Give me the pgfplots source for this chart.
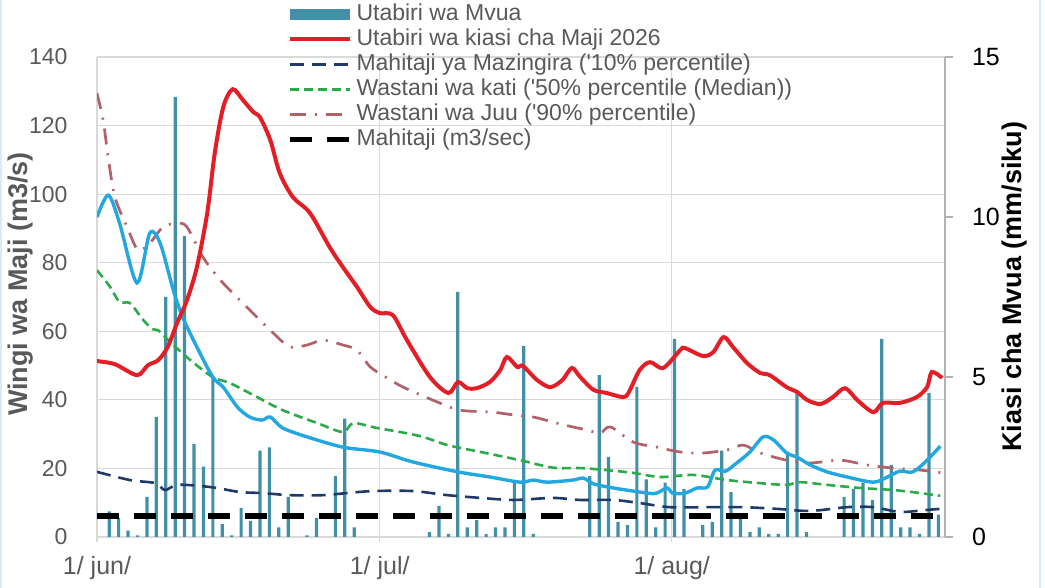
\documentclass[border=0pt]{standalone}
\usepackage{pgfplots}
\pgfplotsset{compat=1.18}
\usepackage{fontspec}
\setmainfont{Liberation Sans}
% same face without TeX ligature mapping, for a straight apostrophe
\newfontfamily\rawfont{Liberation Sans}
\newcommand{\sq}{{\rawfont'}}

\definecolor{txtgray}{HTML}{595959}
\definecolor{gridgray}{HTML}{D9D9D9}
\definecolor{axgray}{HTML}{B3B3B3}
\definecolor{rainblue}{HTML}{4290A8}
\definecolor{flowred}{HTML}{E41E26}
\definecolor{skyblue}{HTML}{22A7E0}
\definecolor{navyline}{HTML}{1F3A68}
\definecolor{medgreen}{HTML}{2BAA4A}
\definecolor{roseline}{HTML}{B0616A}
\definecolor{edgeblue}{HTML}{D8ECF8}

\pgfplotsset{
  base/.style={
    scale only axis, width=424pt, height=240pt,
    xmin=0, xmax=90, at={(0,0)}, anchor=south west,
    /pgf/number format/assume math mode=true,
  },
  redstyle/.style={flowred, line width=2pt},
  navystyle/.style={navyline, line width=1.3pt, dash pattern=on 7pt off 4pt},
  greenstyle/.style={medgreen, line width=1.3pt, dash pattern=on 4.5pt off 2.5pt},
  rosestyle/.style={roseline, line width=1.35pt, dash pattern=on 8pt off 4.5pt on 1pt off 4.5pt},
  blackstyle/.style={black, line width=2.6pt, dash pattern=on 11pt off 7.5pt},
}

\begin{document}
\begin{tikzpicture}
\useasboundingbox (-48.5pt,-25.5pt) rectangle (474pt,268.5pt);
% thin frame edges
\draw[edgeblue, line width=1pt] (-48pt,-25.5pt) -- (-48pt,268.5pt);
\draw[edgeblue, line width=1.2pt] (471.5pt,-25.5pt) -- (471.5pt,268.5pt);

% grid, left scale and date axis
\begin{axis}[base,
  ymin=0, ymax=140, ytick={0,20,...,140},
  xtick={0,30,61}, xticklabels={1/ jun/,1/ jul/,1/ aug/},
  axis x line*=bottom, axis y line*=left,
  axis line style={gridgray, line width=0.6pt, -},
  grid=major, grid style={gridgray, line width=0.6pt},
  xtick style={gridgray, line width=0.6pt},
  ytick style={draw=none},
  tick align=outside, major tick length=2.5pt,
  xticklabel style={font=\fontsize{12.5}{14}\selectfont, text=txtgray, yshift=-3.5pt},
  yticklabel style={font=\fontsize{11.5}{13}\selectfont, text=txtgray, anchor=east, xshift=-8.7pt},
  ylabel={Wingi wa Maji (m3/s)},
  ylabel style={font=\fontsize{13.5}{15}\selectfont\bfseries, text=txtgray,
    at={(axis description cs:-0.0896,0.527)}, anchor=center},
]
\end{axis}

% rainfall bars on the right scale, with the legend
\begin{axis}[base,
  ymin=0, ymax=15, ytick={0,5,10,15},
  axis y line*=right, hide x axis,
  axis line style={axgray, line width=0.6pt, -},
  ytick style={axgray, line width=0.6pt},
  tick align=outside, major tick length=4pt,
  yticklabel style={font=\fontsize{12.5}{14}\selectfont, text=black, anchor=west, xshift=6pt},
  ylabel={Kiasi cha Mvua (mm/siku)},
  ylabel style={font=\fontsize{13.5}{15}\selectfont\bfseries, text=black,
    at={(axis description cs:1.0825,0.521)}, anchor=center},
  legend image code/.code={\draw[#1] (0pt,0pt) -- (30pt,0pt);},
  legend style={at={(axis description cs:0.224,1)}, anchor=north west, yshift=27.75pt,
    draw=none, fill=none, font=\fontsize{11.5}{13}\selectfont, text=txtgray,
    inner sep=0pt, row sep=0pt,
    nodes={inner ysep=0.5pt, inner xsep=2pt, text height=9pt, text depth=2.5pt}},
  legend cell align=left,
]
\addplot[ybar, bar width=1.6pt, bar shift=1.4pt, fill=rainblue, draw=none,
  legend image code/.code={\fill[rainblue] (0pt,-2.6pt) rectangle (30pt,2.6pt);}]
  coordinates {
  (1,0.8) (2,0.6) (3,0.2) (4,0.05) (5,1.25) (6,3.75) (7,7.5) (8,13.75) (9,9.4)
  (10,2.9) (11,2.2) (12,5.0) (13,0.4) (14,0.05) (15,0.9) (16,0.5) (17,2.7)
  (18,2.8) (19,0.3) (20,1.25) (22,0.05) (23,0.6) (25,1.9) (26,3.7) (27,0.3)
  (35,0.15) (36,0.97) (37,0.1) (38,7.66) (39,0.3) (40,0.53) (41,0.1) (42,0.3)
  (43,0.3) (44,1.7) (45,5.97) (46,0.1)
  (52,1.9) (53,5.06) (54,2.5) (55,0.47) (56,0.37) (57,4.69) (58,1.8) (59,0.3)
  (60,1.7) (61,6.19) (62,1.5) (64,0.37) (65,0.47) (66,2.7) (67,1.4) (68,0.65)
  (69,0.15) (70,0.3) (71,0.1) (72,0.1) (73,2.66) (74,4.5) (75,0.15)
  (79,1.25) (80,1.5) (81,1.7) (82,1.15) (83,6.19) (84,2.25) (85,0.3) (86,0.3)
  (87,0.1) (88,4.5) (89,0.7)
  };
\addlegendentry{Utabiri wa Mvua}
\addlegendimage{redstyle}
\addlegendentry{Utabiri wa kiasi cha Maji 2026}
\addlegendimage{navystyle}
\addlegendentry{Mahitaji ya Mazingira (\sq10\% percentile)}
\addlegendimage{greenstyle}
\addlegendentry{Wastani wa kati (\sq50\% percentile (Median))}
\addlegendimage{rosestyle}
\addlegendentry{Wastani wa Juu (\sq90\% percentile)}
\addlegendimage{blackstyle}
\addlegendentry{Mahitaji (m3/sec)}
\end{axis}

% flow series on the left scale
\begin{axis}[base, ymin=0, ymax=140, hide axis]
\addplot[rosestyle, smooth, tension=0.5] coordinates {
  (0,129.4) (0.65,121.6) (1.2,110.5) (1.9,99.1) (3.2,90.4) (4.35,83.7) (5.6,85.7)
  (7,90.4) (8.5,91.5) (9.55,90.4) (11.25,81.6) (13.1,74.9) (15.7,67.6) (18.7,59.5)
  (20.5,55.4) (22.3,56) (24,57.4) (26.1,56) (27.6,54.5) (29,49.6) (30.8,46.4)
  (32.5,43.7) (36.1,39.4) (38.5,37) (42,36.4) (44.2,35.6) (46.3,35) (48.4,33.5)
  (50.5,32.1) (52,31.2) (53.4,30.3) (54.5,32.1) (56.9,27.7) (59.4,26.2) (61.9,24.8)
  (64.3,24.5) (66.9,25.4) (68.6,26.8) (70.4,24.5) (73.2,22.4) (75.7,21.6) (78.9,22.4)
  (81.7,21) (84.5,20.1) (87.4,19.5) (89.7,18.7)
};
\addplot[greenstyle, smooth, tension=0.5] coordinates {
  (0,77.8) (1.4,72.9) (2.4,68.5) (3.5,68.2) (4.9,63.3) (5.9,60.6) (6.5,60.3)
  (7.75,56.9) (9.9,51.6) (12.3,46.6) (14.1,44.9) (17,40.8) (19.7,37) (23.4,33.2)
  (26.1,30.6) (27.2,33.2) (29.7,31.8) (32.2,30.6) (34.6,29.2) (37.2,26.8) (40.7,24.8)
  (44.9,22.4) (47,21) (48.8,20.1) (51.3,20.1) (54.1,19.5) (56.9,18.7) (59.8,17.5)
  (63.3,18.1) (66.9,16.6) (70.4,15.7) (73.2,15.2) (74.6,16) (77.5,15.2) (81,14.3)
  (84.5,13.7) (87.4,12.8) (89.5,12)
};
\addplot[navystyle, smooth, tension=0.5] coordinates {
  (0,19) (3.5,16.6) (6.2,15.7) (7.2,13.7) (8.5,15.2) (10.9,14.9) (12.7,14.3)
  (15.2,13.1) (17.6,12.8) (20.5,12.2) (24,12.2) (26.5,12.8) (29.3,13.4) (33.5,13.4)
  (37.2,12.2) (40.7,11.4) (44.2,10.8) (48.4,11.4) (51.3,10.8) (54.8,10.8) (57.6,9.9)
  (60.8,8.7) (65.1,8.7) (68.6,8.7) (72.2,8.2) (75.7,7.6) (79.6,8.7) (82.4,8.7)
  (85.2,7.3) (88.1,7.9) (89.5,8.2)
};
\addplot[skyblue, line width=1.7pt, smooth, tension=0.5] coordinates {
  (0,93.3) (1.2,99.7) (2.4,91.5) (4.25,74.1) (5.6,88.6) (6.7,85.7) (8.1,72)
  (9.1,64.1) (10.6,55.4) (12.3,46.6) (13.4,43.7) (14.9,37.9) (16.2,35) (17.5,34.1)
  (18.4,35) (19.7,31.8) (22.3,29.2) (26.1,26.2) (30,24.8) (33.5,21.9) (38.3,19)
  (41.7,17.5) (44.9,16) (46.3,16.6) (47.8,16) (50.5,16.6) (51.6,17.2) (52.7,15.5)
  (54.8,14.3) (58.4,12.8) (59.4,12.8) (60.5,14.3) (61.1,12.8) (62.4,12.8) (63.7,14.3)
  (64.8,14.6) (65.6,19.5) (66.7,19.2) (67.9,21.6) (69.3,24.8) (70.7,29.2) (71.8,28.3)
  (73.2,24.5) (74.3,23.3) (75.7,21) (77.5,19) (79.6,17.5) (82.4,16) (83.9,17.5)
  (85.2,19.2) (86.6,19) (88.1,22.4) (89.5,26.5)
};
\addplot[redstyle, smooth, tension=0.5] coordinates {
  (0,51.3) (1.9,50.4) (4.25,47.2) (5.4,50.1) (6.5,51.6) (7.5,55.4) (8.5,62.4)
  (9.55,69.1) (10.6,78.7) (11.7,94.5) (12.5,112) (13.4,125.4) (14.4,130.6)
  (15.5,127.4) (16.6,123.9) (17.3,122.4) (18.4,115.7) (19.4,106.1) (20.8,99.1)
  (22.6,94.5) (24.7,84.5) (26.1,78.7) (27.6,72.9) (29,67.1) (30,65.3) (31.4,64.7)
  (32.9,57.4) (35.35,46.6) (37.3,42) (38.3,45.2) (39.3,43.4) (40.3,43.4) (41.7,45.2)
  (42.8,48.7) (43.5,52.5) (44.6,49.6) (45.2,49.9) (46.7,45.8) (48.1,43.7) (49.4,45.8)
  (50.4,49.3) (51.3,46.6) (52.7,42.9) (54.1,42) (55.8,40.8) (56.4,42) (57.6,48.7)
  (58.7,51) (60.1,49.3) (61.9,54.5) (62.4,55.1) (64.3,52.8) (65.4,53.9) (66.5,58.3)
  (67.5,55.4) (69,50.7) (70.4,47.8) (71.4,47.2) (73.2,43.7) (74.3,42.3) (75.4,39.9)
  (76.8,38.8) (78.1,40.8) (79.4,43.4) (80.7,39.9) (82.4,36.4) (83.4,39.1) (85.2,39.1)
  (87,40.8) (88.1,43.7) (88.6,48.1) (89.7,46.4)
};
\addplot[blackstyle] coordinates {(0,6.1) (89,6.1)};
\end{axis}
\end{tikzpicture}
\end{document}
